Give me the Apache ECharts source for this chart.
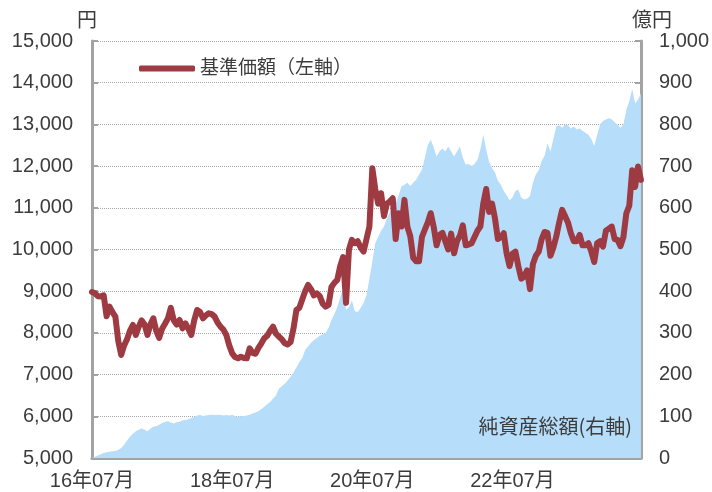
<!DOCTYPE html>
<html>
<head>
<meta charset="utf-8">
<script src="https://cdn.jsdelivr.net/npm/echarts@6/dist/echarts.min.js"></script>
<style>
  html, body { margin: 0; padding: 0; background: #fff; }
</style>
</head>
<body>
<div id="fundChart" style="width:712px;height:492px;"></div>
<script>
// 半月ごとのデータ（2016年07月〜2024年05月）
var startYear = 2016;
var startMonth = 7;
var pointCount = 189;

// 基準価額（円・左軸）
var navPrice = [
  8980, 8950, 8880, 8870, 8900, 8400, 8630, 8500, 8390, 7800,
  7470, 7700, 7850, 8050, 8190, 7950, 8150, 8300, 8200, 7950,
  8200, 8350, 8050, 7880, 8100, 8220, 8350, 8600, 8300, 8200,
  8310, 8110, 8230, 8100, 7950, 8300, 8550, 8500, 8350, 8420,
  8470, 8450, 8390, 8250, 8150, 8080, 7950, 7700, 7510, 7420,
  7390, 7430, 7400, 7390, 7630, 7520, 7500, 7640, 7750, 7870,
  7930, 8050, 8150, 7980, 7910, 7850, 7750, 7720, 7780, 8100,
  8550, 8600, 8800, 9000, 9150, 9050, 8900, 8950, 8880, 8700,
  8630, 8670, 9100, 9200, 9270, 9600, 9820, 8720, 10000, 10230,
  10150, 10200, 10050, 9950, 10250, 10550, 11950, 11450, 11100, 11350,
  10800, 11100, 11150, 11230, 10250, 10870, 10550, 11190, 10550, 10320,
  9800, 9720, 9720, 10300, 10480, 10650, 10870, 10550, 10100, 10350,
  10400, 10200, 10000, 10380, 9910, 10200, 10330, 10580, 10100, 10120,
  10150, 10300, 10450, 10550, 11100, 11450, 10900, 11100, 10750, 10250,
  10300, 10390, 9900, 9600, 9900, 9950, 9600, 9300, 9350, 9500,
  9050, 9650, 9850, 9950, 10250, 10420, 10400, 9850, 10050, 10310,
  10650, 10950, 10800, 10650, 10390, 10200, 10200, 10350, 10100, 10100,
  10150, 9950, 9700, 10150, 10200, 10070, 10450, 10500, 10550, 10250,
  10230, 10080, 10300, 10870, 11050, 11900, 11500, 11990, 11670
];

// 純資産総額（億円・右軸）
var totalAssets = [
  0, 3, 6, 9, 12, 14, 15, 16, 17, 19,
  24, 32, 42, 51, 58, 64, 68, 71, 68, 64,
  70, 75, 76, 80, 84, 87, 88, 85, 83, 86,
  87, 90, 91, 93, 96, 99, 102, 103, 101, 102,
  103, 104, 103, 104, 103, 102, 103, 102, 103, 101,
  99, 100, 101, 102, 104, 107, 109, 112, 117, 123,
  129, 134, 142, 150, 166, 172, 178, 186, 195, 205,
  217, 230, 240, 259, 268, 276, 283, 288, 293, 297,
  300, 312, 331, 345, 362, 385, 405, 355, 362, 378,
  352, 350, 360, 372, 390, 430, 470, 515, 530, 545,
  555, 575, 590, 600, 611, 630, 651, 655, 660, 652,
  660, 667, 680, 691, 720, 750, 763, 745, 723, 735,
  742, 735, 747, 735, 723, 735, 747, 720, 703, 705,
  700, 705, 715, 740, 775, 740, 710, 695, 685, 665,
  655, 640, 630, 618, 625, 640, 643, 625, 620, 622,
  628, 660, 680, 690, 712, 725, 755, 735, 765, 795,
  798, 792, 800, 798, 790, 795, 788, 790, 785, 780,
  775, 765, 748, 775, 800, 808, 812, 815, 812, 805,
  800, 792, 800, 835, 855, 885, 850, 860, 875
];

var xTickLabels = ['16年07月', '18年07月', '20年07月', '22年07月'];
var labelStep = 48;

var dates = [];
for (var i = 0; i < pointCount; i++) {
  var m = startMonth - 1 + Math.floor(i / 2);
  var y = startYear + Math.floor(m / 12);
  var mm = (m % 12) + 1;
  dates.push(y + '-' + (mm < 10 ? '0' + mm : mm) + (i % 2 === 0 ? '-01' : '-16'));
}

var fontFamily = "'Liberation Sans', 'Noto Sans CJK JP', sans-serif";
var textColor = '#3c3c3c';
var axisGray = '#a3a3a3';

var myChart = echarts.init(document.getElementById('fundChart'));

var option = {
  animation: false,
  textStyle: { fontFamily: fontFamily },
  grid: { left: 92, right: 69, top: 41, bottom: 34 },
  legend: {
    left: 134,
    top: 54,
    data: ['基準価額（左軸）'],
    icon: 'roundRect',
    itemWidth: 56,
    itemHeight: 6,
    itemGap: 4,
    textStyle: { fontSize: 19, color: textColor, fontFamily: fontFamily }
  },
  graphic: [{
    type: 'text',
    right: 80,
    top: 416,
    z: 100,
    style: {
      text: '純資産総額(右軸)',
      font: "20px 'Noto Sans CJK JP', sans-serif",
      fill: textColor
    }
  }],
  xAxis: {
    type: 'category',
    boundaryGap: false,
    data: dates,
    axisLine: { lineStyle: { color: axisGray, width: 3 } },
    axisTick: {
      inside: true,
      length: 6,
      interval: function (index) { return index % labelStep === 0; },
      lineStyle: { color: axisGray, width: 2 }
    },
    axisLabel: {
      interval: function (index) { return index % labelStep === 0; },
      formatter: function (value, index) { return xTickLabels[index / labelStep]; },
      margin: 13,
      fontSize: 20,
      color: textColor,
      fontFamily: fontFamily
    },
    splitLine: { show: false }
  },
  yAxis: [
    {
      type: 'value',
      min: 5000,
      max: 15000,
      interval: 1000,
      name: '円',
      nameGap: 1,
      nameTextStyle: { fontSize: 20, color: textColor, padding: [0, 10, 0, 0], fontFamily: fontFamily },
      axisLine: { show: true, lineStyle: { color: axisGray, width: 3 } },
      axisTick: { show: true, inside: true, length: 6, lineStyle: { color: axisGray, width: 2 } },
      axisLabel: { margin: 19, fontSize: 20, color: textColor, fontFamily: fontFamily },
      splitLine: { show: true, lineStyle: { color: '#a8a8a8', type: 'dotted', width: 1 } }
    },
    {
      type: 'value',
      min: 0,
      max: 1000,
      interval: 100,
      name: '億円',
      nameGap: 1,
      nameTextStyle: { fontSize: 20, color: textColor, padding: [0, 0, 0, 22], fontFamily: fontFamily },
      axisLine: { show: true, lineStyle: { color: axisGray, width: 3 } },
      axisTick: { show: true, inside: true, length: 6, lineStyle: { color: axisGray, width: 2 } },
      axisLabel: { margin: 18, fontSize: 20, color: textColor, fontFamily: fontFamily },
      splitLine: { show: false }
    }
  ],
  series: [
    {
      name: '純資産総額(右軸)',
      type: 'line',
      yAxisIndex: 1,
      data: totalAssets,
      showSymbol: false,
      lineStyle: { width: 0, color: '#b6ddfa' },
      itemStyle: { color: '#b6ddfa' },
      areaStyle: { color: '#b6ddfa', opacity: 1 },
      z: 1
    },
    {
      name: '基準価額（左軸）',
      type: 'line',
      yAxisIndex: 0,
      data: navPrice,
      showSymbol: false,
      lineStyle: { width: 6, color: '#9e3a42', join: 'round', cap: 'round' },
      itemStyle: { color: '#9e3a42' },
      z: 3
    }
  ]
};

myChart.setOption(option);
window.onresize = myChart.resize;
</script>
</body>
</html>
